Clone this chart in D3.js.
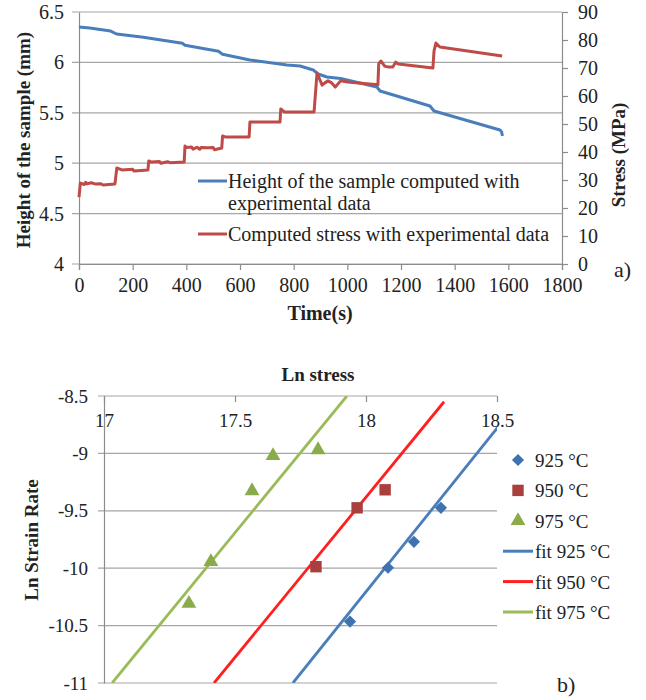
<!DOCTYPE html>
<html>
<head>
<meta charset="utf-8">
<script src="https://cdn.jsdelivr.net/npm/d3@7"></script>
<style>
  body { margin: 0; background: #fff; }
  svg text { font-family: "Liberation Serif", "Times New Roman", serif; }
</style>
</head>
<body>
<svg id="chart" width="646" height="700"></svg>
<script>
// ---- chart a) : height of sample and stress vs time ----
let heightTime = [0, 40, 118, 140, 240, 385, 395, 520, 535, 637, 775, 824, 873, 891, 924, 975, 1110, 1122, 1308, 1323, 1569, 1575, 1578]
let heightVals = [6.351, 6.341, 6.311, 6.282, 6.25, 6.19, 6.17, 6.11, 6.08, 6.024, 5.974, 5.964, 5.925, 5.885, 5.855, 5.84, 5.756, 5.716, 5.567, 5.518, 5.33, 5.31, 5.27]

let stressTime = [0, 5, 20, 25, 30, 45, 60, 80, 90, 134, 141, 150, 160, 200, 205, 257, 260, 270, 300, 305, 330, 340, 392, 395, 400, 420, 425, 440, 450, 455, 480, 500, 505, 532, 535, 545, 634, 637, 749, 752, 765, 876, 887, 906, 915, 928, 940, 955, 975, 1000, 1114, 1117, 1125, 1140, 1151, 1170, 1180, 1190, 1319, 1323, 1330, 1345, 1577]
let stressVals = [23.9, 28.9, 28.4, 29.2, 28.6, 29.0, 28.6, 28.7, 28.2, 28.6, 34.3, 34.0, 33.6, 33.8, 33.2, 33.6, 36.8, 36.4, 36.6, 36.0, 36.5, 36.2, 36.4, 42.1, 41.6, 41.8, 41.0, 41.7, 41.0, 41.6, 41.5, 41.6, 40.8, 41.4, 45.7, 45.4, 45.4, 50.7, 50.7, 55.4, 54.3, 54.3, 68.2, 63.9, 64.6, 65.4, 64.8, 63.2, 65.4, 65.0, 64.0, 71.5, 72.5, 70.6, 70.4, 70.4, 72.1, 71.4, 70.0, 76.0, 78.9, 77.5, 74.3]

let timeTicks = [0, 200, 400, 600, 800, 1000, 1200, 1400, 1600, 1800]
let heightTicks = [4, 4.5, 5, 5.5, 6, 6.5]
let stressTicks = [0, 10, 20, 30, 40, 50, 60, 70, 80, 90]

// ---- chart b) : ln strain rate vs ln stress ----
let s925x = [17.939, 18.084, 18.183, 18.286]
let s925y = [-10.465, -9.996, -9.77, -9.474]
let s950x = [17.809, 17.966, 18.073]
let s950y = [-9.987, -9.474, -9.317]
let s975x = [17.324, 17.408, 17.565, 17.645, 17.817]
let s975y = [-10.317, -9.952, -9.335, -9.03, -8.978]

let fit925 = [[17.721, -11], [18.56, -8.61]]
let fit950 = [[17.42, -11], [18.298, -8.55]]
let fit975 = [[17.031, -11], [17.927, -8.5]]

let lnStressTicks = [17, 17.5, 18, 18.5]
let lnRateTicks = [-11, -10.5, -10, -9.5, -9, -8.5]

let svg = d3.select("#chart")
let gridColor = "#a6a6a6"
let axisColor = "#8c8c8c"
let serif = "Liberation Serif"
let plain = d => String(d)   // hyphen minus, no thousands comma

let styleAxis = (ax, size) => {
    ax.attr("font-family", serif)
    ax.select(".domain").attr("stroke", axisColor).attr("stroke-width", 1.2)
    ax.selectAll(".tick line").attr("stroke", axisColor).attr("stroke-width", 1.2)
    ax.selectAll("text").attr("font-size", size).attr("fill", "#222").attr("font-family", serif)
}

// ================= a) =================
let x1 = d3.scaleLinear().domain([0, 1800]).range([79, 562])
let yL = d3.scaleLinear().domain([4, 6.5]).range([264, 12])
let yR = d3.scaleLinear().domain([0, 90]).range([264, 12])

let gA = svg.append("g")

gA.append("g").selectAll("line").data(heightTicks).join("line")
    .attr("x1", 72).attr("x2", 562)
    .attr("y1", d => yL(d)).attr("y2", d => yL(d))
    .attr("stroke", gridColor).attr("stroke-width", 1.2)

let axL = gA.append("g").attr("transform", "translate(79,0)")
    .call(d3.axisLeft(yL).tickValues(heightTicks).tickSize(0).tickPadding(15).tickFormat(plain))
styleAxis(axL, 20)

let axR = gA.append("g").attr("transform", "translate(562,0)")
    .call(d3.axisRight(yR).tickValues(stressTicks).tickSize(6).tickPadding(10).tickFormat(plain))
styleAxis(axR, 20)

let axB = gA.append("g").attr("transform", "translate(0,264)")
    .call(d3.axisBottom(x1).tickValues(timeTicks).tickSize(6).tickPadding(8).tickFormat(plain))
styleAxis(axB, 20)

let heightLine = d3.line().x((d, i) => x1(heightTime[i])).y(d => yL(d))
gA.append("path").datum(heightVals)
    .attr("fill", "none").attr("stroke", "#4a7ebb").attr("stroke-width", 3)
    .attr("stroke-linejoin", "round").attr("d", heightLine)

let stressLine = d3.line().x((d, i) => x1(stressTime[i])).y(d => yR(d))
gA.append("path").datum(stressVals)
    .attr("fill", "none").attr("stroke", "#be4b48").attr("stroke-width", 3)
    .attr("stroke-linejoin", "round").attr("d", stressLine)

// legend a)
let legA = [
    { color: "#4a7ebb", lines: ["Height of the sample computed with", "experimental data"], y: 181 },
    { color: "#be4b48", lines: ["Computed stress with experimental data"], y: 234 }
]
legA.forEach(l => {
    gA.append("line").attr("x1", 198).attr("x2", 227).attr("y1", l.y).attr("y2", l.y)
        .attr("stroke", l.color).attr("stroke-width", 3)
    l.lines.forEach((t, i) => {
        gA.append("text").attr("x", 228).attr("y", l.y + 7 + i * 22)
            .attr("font-size", 20).attr("fill", "#222").text(t)
    })
})

gA.append("text").attr("x", 320).attr("y", 320).attr("text-anchor", "middle")
    .attr("font-size", 20).attr("font-weight", "bold").attr("fill", "#222").text("Time(s)")
gA.append("text").attr("transform", "translate(30,140) rotate(-90)").attr("text-anchor", "middle")
    .attr("font-size", 19).attr("font-weight", "bold").attr("fill", "#222").text("Height of the sample (mm)")
gA.append("text").attr("transform", "translate(625,155) rotate(-90)").attr("text-anchor", "middle")
    .attr("font-size", 19).attr("font-weight", "bold").attr("fill", "#222").text("Stress (MPa)")
gA.append("text").attr("x", 614).attr("y", 277)
    .attr("font-size", 22).attr("fill", "#222").text("a)")

// ================= b) =================
let x2 = d3.scaleLinear().domain([17, 18.5]).range([104, 497])
let y2 = d3.scaleLinear().domain([-11, -8.5]).range([683, 396])

let gB = svg.append("g")

gB.append("defs").append("clipPath").attr("id", "clipB")
    .append("rect").attr("x", 104).attr("y", 396).attr("width", 393).attr("height", 287)

gB.append("g").selectAll("line").data(lnRateTicks).join("line")
    .attr("x1", 98).attr("x2", 497)
    .attr("y1", d => y2(d)).attr("y2", d => y2(d))
    .attr("stroke", gridColor).attr("stroke-width", 1.2)

let ax2L = gB.append("g").attr("transform", "translate(104,0)")
    .call(d3.axisLeft(y2).tickValues(lnRateTicks).tickSize(0).tickPadding(16).tickFormat(plain))
styleAxis(ax2L, 19)

let ax2T = gB.append("g").attr("transform", "translate(0,396)")
    .call(d3.axisBottom(x2).tickValues(lnStressTicks).tickSize(6).tickPadding(12).tickFormat(plain))
ax2T.select(".domain").remove()
styleAxis(ax2T, 19)

let fitLine = d3.line().x(d => x2(d[0])).y(d => y2(d[1]))
let fits = [[fit925, "#4a7ebb"], [fit950, "#ff1f1f"], [fit975, "#9bbb59"]]
gB.append("g").attr("clip-path", "url(#clipB)").selectAll("path").data(fits).join("path")
    .attr("d", d => fitLine(d[0])).attr("fill", "none")
    .attr("stroke", d => d[1]).attr("stroke-width", 2.8)

let sym925 = d3.symbol().type(d3.symbolDiamond2).size(95)
let sym950 = d3.symbol().type(d3.symbolSquare).size(130)
let sym975 = d3.symbol().type(d3.symbolTriangle).size(95)

gB.append("g").selectAll("path").data(s925x).join("path")
    .attr("transform", (d, i) => `translate(${x2(d)},${y2(s925y[i])})`)
    .attr("d", sym925).attr("fill", "#3f73b0")
gB.append("g").selectAll("path").data(s950x).join("path")
    .attr("transform", (d, i) => `translate(${x2(d)},${y2(s950y[i])})`)
    .attr("d", sym950).attr("fill", "#a9403d")
gB.append("g").selectAll("path").data(s975x).join("path")
    .attr("transform", (d, i) => `translate(${x2(d)},${y2(s975y[i]) - 1})`)
    .attr("d", sym975).attr("fill", "#8aab4b")

// legend b)
let legB = [
    { sym: sym925, color: "#3f73b0", text: "925 °C" },
    { sym: sym950, color: "#a9403d", text: "950 °C" },
    { sym: sym975, color: "#8aab4b", text: "975 °C" },
    { line: "#4a7ebb", text: "fit 925 °C" },
    { line: "#ff1f1f", text: "fit 950 °C" },
    { line: "#9bbb59", text: "fit 975 °C" }
]
legB.forEach((l, i) => {
    let y = 460 + i * 30.4
    if (l.sym) {
        gB.append("path").attr("transform", `translate(518,${y})`).attr("d", l.sym).attr("fill", l.color)
    } else {
        gB.append("line").attr("x1", 503).attr("x2", 533).attr("y1", y).attr("y2", y)
            .attr("stroke", l.line).attr("stroke-width", 3)
    }
    gB.append("text").attr("x", 535).attr("y", y + 7).attr("font-size", 19).attr("fill", "#222").text(l.text)
})

gB.append("text").attr("x", 318).attr("y", 381).attr("text-anchor", "middle")
    .attr("font-size", 19).attr("font-weight", "bold").attr("fill", "#222").text("Ln stress")
gB.append("text").attr("transform", "translate(38,540) rotate(-90)").attr("text-anchor", "middle")
    .attr("font-size", 19).attr("font-weight", "bold").attr("fill", "#222").text("Ln Strain Rate")
gB.append("text").attr("x", 557).attr("y", 692)
    .attr("font-size", 22).attr("fill", "#222").text("b)")
</script>
</body>
</html>
